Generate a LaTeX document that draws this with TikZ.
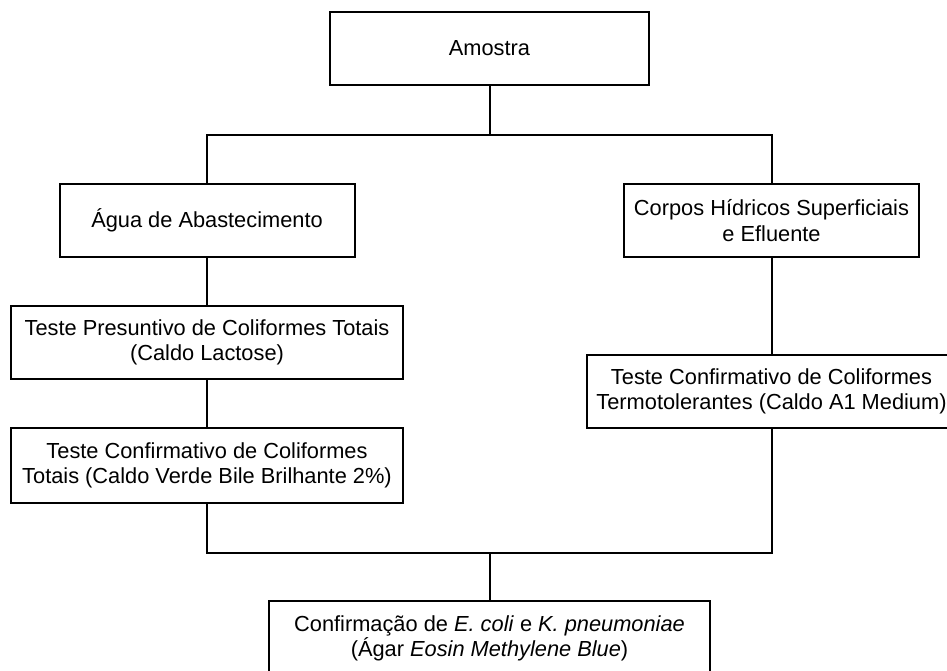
\documentclass[tikz,border=0pt]{standalone}
\usepackage{fontspec}
\setmainfont{Liberation Sans}
\usepackage{tikz}

\tikzset{
  etapa/.style={draw,line width=2pt,inner sep=0pt,align=center,
    font=\fontsize{21.8}{25.5}\selectfont},
}

\begin{document}
\begin{tikzpicture}[x=1pt,y=1pt,line width=2pt]
\path[use as bounding box] (0,0) rectangle (947,671);
\node[etapa,minimum width=319,minimum height=73] (amostra) at (489.5,622.5) {Amostra};
\node[etapa,minimum width=295,minimum height=73] (agua) at (207,450.5) {Água de Abastecimento};
\node[etapa,minimum width=295,minimum height=73] (corpos) at (771.5,450.5)
  {Corpos Hídricos Superficiais\\e Efluente};
\node[etapa,minimum width=392,minimum height=73] (presuntivo) at (207,328.5)
  {Teste Presuntivo de Coliformes Totais\\(Caldo Lactose)};
\node[etapa,minimum width=392,minimum height=75] (totais) at (207,205.5)
  {Teste Confirmativo de Coliformes\\Totais (Caldo Verde Bile Brilhante 2\%)};
\node[etapa,minimum width=369,minimum height=73] (termo) at (771.5,279.5)
  {Teste Confirmativo de Coliformes\\Termotolerantes (Caldo A1 Medium)};
\node[etapa,minimum width=441,minimum height=75] (confirma) at (489.5,32.5)
  {Confirmação de \textit{E. coli} e \textit{K. pneumoniae}\\(Ágar \textit{Eosin Methylene Blue})};
\coordinate (ramo) at (489.5,536);
\coordinate (junta) at (489.5,118);
% ligacoes
\draw (amostra) -- (ramo);
\draw (agua.north) |- (ramo) -| (corpos.north);
\draw (agua) -- (presuntivo);
\draw (presuntivo) -- (totais);
\draw (corpos) -- (termo);
\draw (totais.south) |- (junta) -| (termo.south);
\draw (junta) -- (confirma);
\end{tikzpicture}
\end{document}
